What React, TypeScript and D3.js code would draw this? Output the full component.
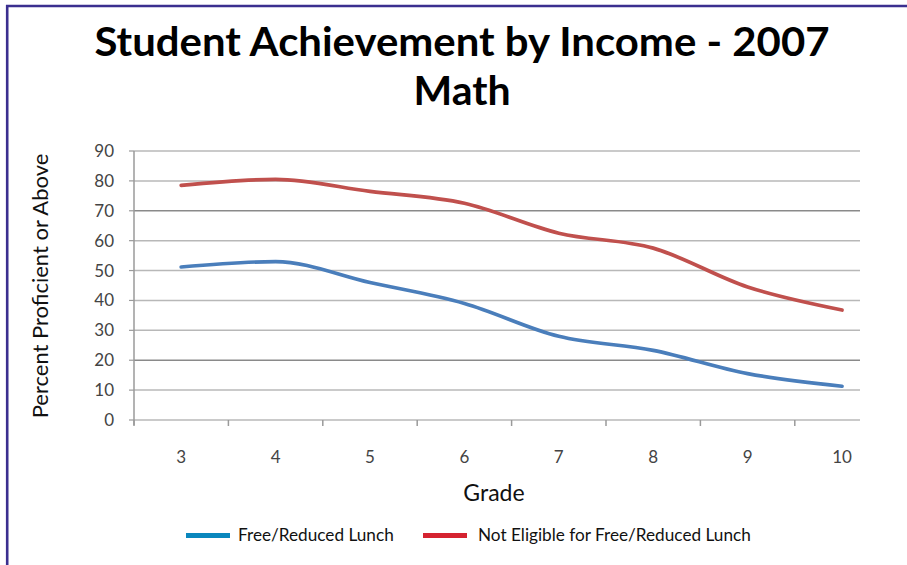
import React from "react";
import * as d3 from "d3";

const grades = ["3", "4", "5", "6", "7", "8", "9", "10"];
const freeReduced = [51.2, 53, 46, 39, 28, 23.3, 15.5, 11.3];
const notEligible = [78.5, 80.5, 76.5, 72.5, 62.5, 57.5, 44.5, 36.8];
const yTicks = [0, 10, 20, 30, 40, 50, 60, 70, 80, 90];
const seriesNames = ["Free/Reduced Lunch", "Not Eligible for Free/Reduced Lunch"];

const W = 907;
const H = 565;
const left = 134;
const step = 94.4;
const gridRight = 860;
const top = 151;
const bottom = 420;

export default function App() {
  const x = d3
    .scaleBand<string>()
    .domain(grades)
    .range([left, left + step * grades.length])
    .paddingInner(0)
    .paddingOuter(0);
  const y = d3.scaleLinear().domain([0, 90]).range([bottom, top]);
  const cx = (g: string) => (x(g) ?? 0) + x.bandwidth() / 2;
  const line = d3
    .line<number>()
    .x((_, i) => cx(grades[i]))
    .y((d) => y(d))
    .curve(d3.curveMonotoneX);

  const font = "Lato, 'Open Sans', sans-serif";
  const tickColor = "#444";

  return (
    <svg
      width={W}
      height={H}
      style={{ position: "absolute", left: 0, top: 0, background: "#fff" }}
      fontFamily={font}
    >
      <rect x={0} y={0} width={W} height={H} fill="#fff" />
      {/* frame */}
      <line x1={7.2} x2={7.2} y1={5} y2={H} stroke="#3b2f8f" strokeWidth={2.6} />
      <line x1={6} x2={W} y1={6} y2={6} stroke="#3b2f8f" strokeWidth={2.4} />

      {/* title */}
      <text x={462} y={56} textAnchor="middle" fontSize={41} fontWeight={700} fill="#000" textLength={735} lengthAdjust="spacingAndGlyphs">
        Student Achievement by Income - 2007
      </text>
      <text x={462} y={105} textAnchor="middle" fontSize={41} fontWeight={700} fill="#000">
        Math
      </text>

      {/* gridlines */}
      {yTicks.map((t) => (
        <g key={t}>
          <line
            x1={left}
            x2={gridRight}
            y1={y(t)}
            y2={y(t)}
            stroke={t === 70 || t === 20 ? "#8a8a8a" : "#b8b8b8"}
            strokeWidth={1.5}
          />
          <line x1={left - 5} x2={left} y1={y(t)} y2={y(t)} stroke="#9a9a9a" strokeWidth={1.2} />
          <text
            x={left - 20}
            y={y(t)}
            dy="0.35em"
            textAnchor="end"
            fontSize={17}
            fill={tickColor}
          >
            {t}
          </text>
        </g>
      ))}
      {/* y axis line */}
      <line x1={left} x2={left} y1={top} y2={bottom + 5} stroke="#9a9a9a" strokeWidth={1.5} />

      {/* x ticks */}
      {grades.map((g) => (
        <g key={g}>
          <line
            x1={x(g) ?? 0}
            x2={x(g) ?? 0}
            y1={bottom}
            y2={bottom + 6}
            stroke="#9a9a9a"
            strokeWidth={1.5}
          />
          <text x={cx(g)} y={463} textAnchor="middle" fontSize={17} fill={tickColor}>
            {g}
          </text>
        </g>
      ))}

      {/* series */}
      <path d={line(freeReduced) ?? ""} fill="none" stroke="#4a7ebb" strokeWidth={3.7} strokeLinejoin="round" strokeLinecap="round" />
      <path d={line(notEligible) ?? ""} fill="none" stroke="#c0504d" strokeWidth={3.7} strokeLinejoin="round" strokeLinecap="round" />

      {/* axis titles */}
      <text x={494} y={501} textAnchor="middle" fontSize={23} fill="#111">
        Grade
      </text>
      <text
        transform={`translate(48, 286) rotate(-90)`}
        textAnchor="middle"
        fontSize={22}
        fill="#111"
      >
        Percent Proficient or Above
      </text>

      {/* legend */}
      <line x1={186} x2={230} y1={535.5} y2={535.5} stroke="#0a87bd" strokeWidth={5} />
      <text x={238} y={541} fontSize={17.2} fill="#111">
        {seriesNames[0]}
      </text>
      <line x1={423} x2={467} y1={535.5} y2={535.5} stroke="#d52330" strokeWidth={5} />
      <text x={478} y={541} fontSize={17.2} fill="#111">
        {seriesNames[1]}
      </text>
    </svg>
  );
}
